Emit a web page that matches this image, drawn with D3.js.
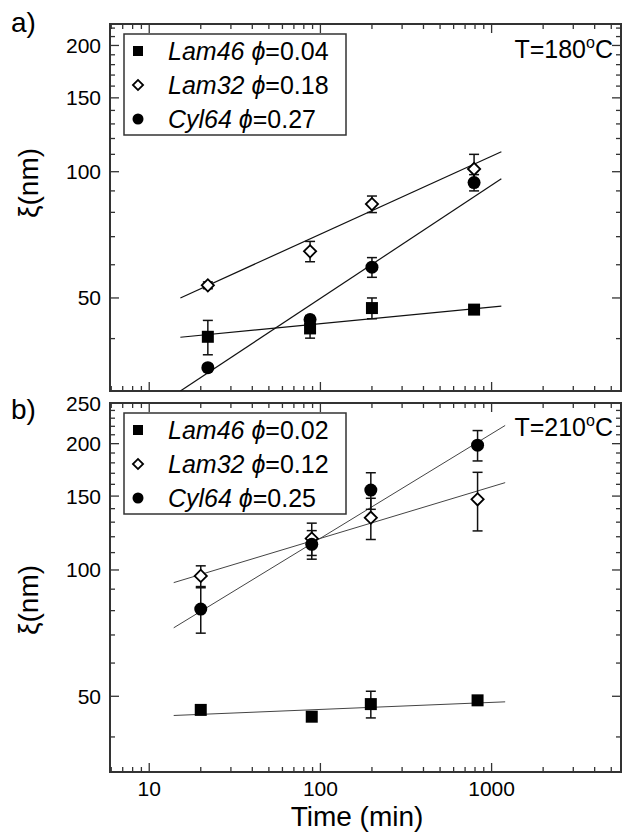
<!DOCTYPE html>
<meta charset="utf-8" />
<title>Domain size vs annealing time</title>
<script src="https://d3js.org/d3.v7.min.js"></script>
<style>
  body { margin: 0; background: #fff; }
  svg text { font-family: "Liberation Sans", Arial, sans-serif; fill: #000; }
</style>
<body>
<svg id="chart" width="623" height="833"></svg>
<script>
  // ---- data ----
  // panel a) T = 180 C
  var timesA    = [22, 87, 200, 790];
  var lam46A    = [40.4, 42.3, 47.3, 46.9];
  var lam46ErrA = [3.8, 2.2, 2.7, 0.8];
  var lam32A    = [53.6, 64.6, 83.7, 101.5];
  var lam32ErrA = [1.0, 3.6, 3.8, 8.5];
  var cyl64A    = [34.1, 44.4, 59.2, 94.2];
  var cyl64ErrA = [0.6, 1.0, 3.2, 4.2];
  var fitTimesA = [15.2, 1140];
  var lam46FitA = [40.3, 47.8];
  var lam32FitA = [50.0, 111.6];
  var cyl64FitA = [30.0, 96.2];
  var phiA      = ["0.04", "0.18", "0.27"];

  // panel b) T = 210 C
  var timesB    = [20, 89, 197, 828];
  var lam46B    = [46.4, 44.7, 47.9, 48.9];
  var lam46ErrB = [0.8, 0.5, 3.5, 0.8];
  var lam32B    = [96.8, 118.8, 133.2, 147.4];
  var lam32ErrB = [5.5, 10.5, 15.0, 23.5];
  var cyl64B    = [80.7, 115.1, 155.0, 198.4];
  var cyl64ErrB = [10.0, 9.0, 15.5, 16.5];
  var fitTimesB = [13.9, 1200];
  var lam46FitB = [45.0, 48.5];
  var lam32FitB = [93.3, 161.5];
  var cyl64FitB = [72.8, 221.0];
  var phiB      = ["0.02", "0.12", "0.25"];

  var seriesNames = ["Lam46", "Lam32", "Cyl64"];
  var seriesShape = ["square", "diamond", "circle"];
  var xTickLabels = [10, 100, 1000];
  var yTicksA     = [50, 100, 150, 200];
  var yTicksB     = [50, 100, 150, 200, 250];

  // ---- layout ----
  var svg = d3.select("#chart");
  var left = 110, right = 621;
  var x = d3.scaleLog().domain([5.9, 5700]).range([left, right]);

  var panels = [
    { top: 24,  bottom: 391, ydom: [30, 225], yticks: yTicksA, label: "a)", labelY: 32,
      tempY: 58, times: timesA, fitT: fitTimesA, phi: phiA,
      vals: [lam46A, lam32A, cyl64A], errs: [lam46ErrA, lam32ErrA, cyl64ErrA],
      fits: [lam46FitA, lam32FitA, cyl64FitA], tval: "180", fitColor: "#111", fitW: 1.2,
      titleY: 183, showX: false },
    { top: 403, bottom: 772, ydom: [33, 250], yticks: yTicksB, label: "b)", labelY: 419,
      tempY: 436, times: timesB, fitT: fitTimesB, phi: phiB,
      vals: [lam46B, lam32B, cyl64B], errs: [lam46ErrB, lam32ErrB, cyl64ErrB],
      fits: [lam46FitB, lam32FitB, cyl64FitB], tval: "210", fitColor: "#444", fitW: 1,
      titleY: 600, showX: true }
  ];

  function minorTicks(lo, hi) {
    var out = [];
    for (var p = -1; p < 5; p++) {
      var base = Math.pow(10, p);
      for (var k = 1; k < 10; k++) {
        var v = k * base;
        if (v >= lo && v <= hi) out.push(v);
      }
    }
    return out;
  }

  function drawMarker(g, shape, cx, cy, s) {
    if (shape === "square") {
      g.append("path").attr("d", d3.symbol(d3.symbolSquare, s * s)())
        .attr("transform", "translate(" + cx + "," + cy + ")").attr("fill", "#000");
    } else if (shape === "circle") {
      g.append("circle").attr("cx", cx).attr("cy", cy).attr("r", s / 2 + 0.5).attr("fill", "#000");
    } else {
      var d = s * 0.72;
      g.append("path").attr("d", d3.symbol(d3.symbolSquare, d * d)())
        .attr("transform", "translate(" + cx + "," + cy + ") rotate(45)")
        .attr("fill", "#fff").attr("stroke", "#000").attr("stroke-width", 1.8);
    }
  }

  panels.forEach(function(p, pi) {
    var y = d3.scaleLog().domain(p.ydom).range([p.bottom, p.top]);
    var g = svg.append("g");

    // clip for fit lines
    svg.append("clipPath").attr("id", "clip" + pi).append("rect")
      .attr("x", left).attr("y", p.top).attr("width", right - left).attr("height", p.bottom - p.top);

    // x ticks (bottom and top, inward)
    var xminor = minorTicks(x.domain()[0], x.domain()[1]);
    xminor.forEach(function(v) {
      var major = Math.abs(Math.log10(v) - Math.round(Math.log10(v))) < 1e-9;
      var len = major ? 9 : 5;
      g.append("line").attr("x1", x(v)).attr("x2", x(v)).attr("y1", p.bottom).attr("y2", p.bottom - len)
        .attr("stroke", "#333").attr("stroke-width", 1.3);
      g.append("line").attr("x1", x(v)).attr("x2", x(v)).attr("y1", p.top).attr("y2", p.top + len)
        .attr("stroke", "#333").attr("stroke-width", 1.3);
    });

    // y ticks: every 10, major at the labelled values
    var yvals = d3.range(10, 300, 10).filter(function(v) { return v >= p.ydom[0] && v <= p.ydom[1]; });
    yvals.forEach(function(v) {
      var len = p.yticks.indexOf(v) >= 0 ? 9 : 5;
      g.append("line").attr("x1", left).attr("x2", left + len).attr("y1", y(v)).attr("y2", y(v))
        .attr("stroke", "#333").attr("stroke-width", 1.3);
      g.append("line").attr("x1", right).attr("x2", right - len).attr("y1", y(v)).attr("y2", y(v))
        .attr("stroke", "#333").attr("stroke-width", 1.3);
    });

    // frame
    g.append("rect").attr("x", left).attr("y", p.top).attr("width", right - left)
      .attr("height", p.bottom - p.top).attr("fill", "none").attr("stroke", "#333").attr("stroke-width", 2);

    // y tick labels
    p.yticks.forEach(function(v) {
      g.append("text").attr("x", 101).attr("y", y(v) + 7.5).attr("text-anchor", "end")
        .attr("font-size", 21).text(v);
    });

    // x tick labels
    if (p.showX) {
      xTickLabels.forEach(function(v) {
        g.append("text").attr("x", x(v)).attr("y", 796).attr("text-anchor", "middle")
          .attr("font-size", 21).text(v);
      });
    }

    // y title
    g.append("text").attr("transform", "translate(38," + p.titleY + ") rotate(-90)")
      .attr("text-anchor", "middle").attr("font-size", 28).text("ξ(nm)");

    // panel label
    g.append("text").attr("x", 11).attr("y", p.labelY).attr("font-size", 28).text(p.label);

    // temperature
    var tt = g.append("text").attr("x", 613).attr("y", p.tempY).attr("text-anchor", "end").attr("font-size", 25);
    tt.append("tspan").text("T=" + p.tval);
    tt.append("tspan").attr("font-size", 16).attr("dy", -10).text("o");
    tt.append("tspan").attr("dy", 10).text("C");

    // fit lines
    var line = d3.line().x(function(d) { return x(d[0]); }).y(function(d) { return y(d[1]); });
    p.fits.forEach(function(f) {
      g.append("path").attr("d", line(p.fitT.map(function(t, i) { return [t, f[i]]; })))
        .attr("clip-path", "url(#clip" + pi + ")")
        .attr("fill", "none").attr("stroke", p.fitColor).attr("stroke-width", p.fitW);
    });

    // error bars
    p.vals.forEach(function(vals, si) {
      vals.forEach(function(v, i) {
        var cx = x(p.times[i]), e = p.errs[si][i];
        var y1 = y(v + e), y2 = y(v - e);
        g.append("line").attr("x1", cx).attr("x2", cx).attr("y1", y1).attr("y2", y2)
          .attr("stroke", "#111").attr("stroke-width", 1.5);
        [y1, y2].forEach(function(yy) {
          g.append("line").attr("x1", cx - 5).attr("x2", cx + 5).attr("y1", yy).attr("y2", yy)
            .attr("stroke", "#111").attr("stroke-width", 1.5);
        });
      });
    });

    // markers
    p.vals.forEach(function(vals, si) {
      vals.forEach(function(v, i) {
        drawMarker(g, seriesShape[si], x(p.times[i]), y(v), 12);
      });
    });

    // legend
    var lx = 124, ly = p.top + 10, lw = 222, lh = 101;
    g.append("rect").attr("x", lx).attr("y", ly).attr("width", lw).attr("height", lh)
      .attr("fill", "#fff").attr("stroke", "#333").attr("stroke-width", 1.5);
    seriesNames.forEach(function(name, si) {
      var cy = ly + 17 + si * 34;
      drawMarker(g, seriesShape[si], 138, cy, 10);
      var t = g.append("text").attr("x", 168).attr("y", cy + 9).attr("font-size", 25);
      t.append("tspan").attr("font-style", "italic").text(name + " ϕ");
      t.append("tspan").text("=" + p.phi[si]);
    });
  });

  // x title
  svg.append("text").attr("x", 357).attr("y", 826).attr("text-anchor", "middle")
    .attr("font-size", 28).text("Time (min)");
</script>
</body>
